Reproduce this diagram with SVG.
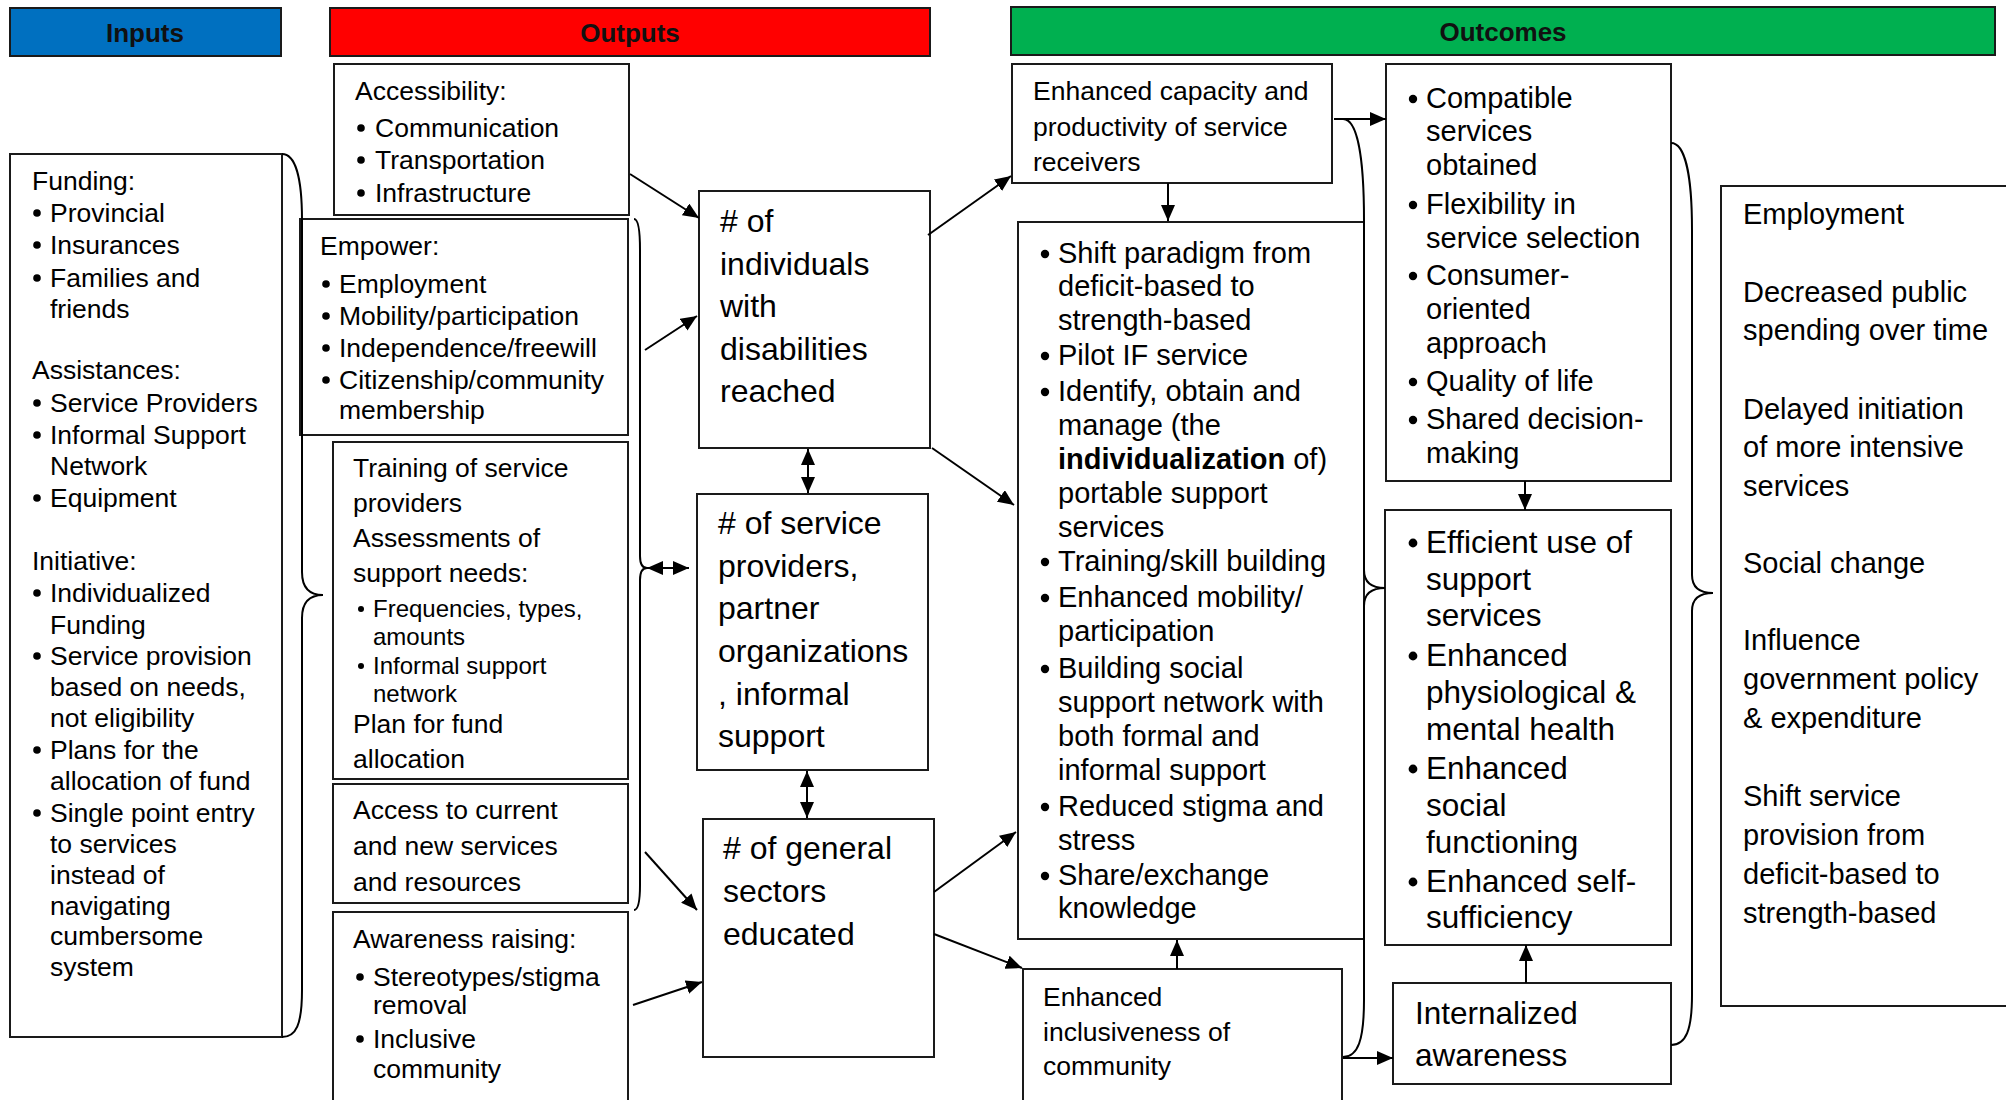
<svg xmlns="http://www.w3.org/2000/svg" width="2006" height="1100" viewBox="0 0 2006 1100">
<style>
.box{fill:#fff;stroke:#1a1a1a;stroke-width:2}
.hdr{stroke:#1a1a1a;stroke-width:2}
.ht{font-family:"Liberation Sans",Arial,sans-serif;font-size:26px;font-weight:bold;fill:#111;text-anchor:middle}
.t{font-family:"Liberation Sans",Arial,sans-serif;font-size:26.5px;fill:#000}
.s{font-family:"Liberation Sans",Arial,sans-serif;font-size:24px;fill:#000}
.m{font-family:"Liberation Sans",Arial,sans-serif;font-size:29px;fill:#000}
.l{font-family:"Liberation Sans",Arial,sans-serif;font-size:31.5px;fill:#000}
.xl{font-family:"Liberation Sans",Arial,sans-serif;font-size:32px;fill:#000}
.b{fill:#000}
.c{fill:none;stroke:#000;stroke-width:2}
.br{fill:none;stroke:#000;stroke-width:2}
</style>
<defs>
<marker id="ah" markerUnits="userSpaceOnUse" markerWidth="16" markerHeight="14" refX="16" refY="7" orient="auto-start-reverse">
<path d="M0,0 L16,7 L0,14 z" fill="#000"/>
</marker>
</defs>
<rect width="2006" height="1100" fill="#fff"/>

<!-- headers -->
<g id="hdr-inputs"><rect class="hdr" x="10" y="8" width="271" height="48" fill="#0070C0"/><text class="ht" x="145" y="42">Inputs</text></g>
<g id="hdr-outputs"><rect class="hdr" x="330" y="8" width="600" height="48" fill="#FF0000"/><text class="ht" x="630" y="42">Outputs</text></g>
<g id="hdr-outcomes"><rect class="hdr" x="1011" y="7" width="984" height="48" fill="#00B050"/><text class="ht" x="1503" y="41">Outcomes</text></g>

<!-- Inputs -->
<g id="funding">
<rect class="box" x="10" y="154" width="272" height="883"/>
<text class="t" x="32" y="190">Funding:</text>
<circle class="b" cx="37" cy="213" r="3.8"/><text class="t" x="50" y="222">Provincial</text>
<circle class="b" cx="37" cy="245" r="3.8"/><text class="t" x="50" y="254">Insurances</text>
<circle class="b" cx="37" cy="278" r="3.8"/><text class="t" x="50" y="287">Families and</text>
<text class="t" x="50" y="318">friends</text>
<text class="t" x="32" y="379">Assistances:</text>
<circle class="b" cx="37" cy="403" r="3.8"/><text class="t" x="50" y="412">Service Providers</text>
<circle class="b" cx="37" cy="435" r="3.8"/><text class="t" x="50" y="444">Informal Support</text>
<text class="t" x="50" y="475">Network</text>
<circle class="b" cx="37" cy="498" r="3.8"/><text class="t" x="50" y="507">Equipment</text>
<text class="t" x="32" y="570">Initiative:</text>
<circle class="b" cx="37" cy="593" r="3.8"/><text class="t" x="50" y="602">Individualized</text>
<text class="t" x="50" y="634">Funding</text>
<circle class="b" cx="37" cy="656" r="3.8"/><text class="t" x="50" y="665">Service provision</text>
<text class="t" x="50" y="696">based on needs,</text>
<text class="t" x="50" y="727">not eligibility</text>
<circle class="b" cx="37" cy="750" r="3.8"/><text class="t" x="50" y="759">Plans for the</text>
<text class="t" x="50" y="790">allocation of fund</text>
<circle class="b" cx="37" cy="813" r="3.8"/><text class="t" x="50" y="822">Single point entry</text>
<text class="t" x="50" y="853">to services</text>
<text class="t" x="50" y="884">instead of</text>
<text class="t" x="50" y="915">navigating</text>
<text class="t" x="50" y="945">cumbersome</text>
<text class="t" x="50" y="976">system</text>
</g>

<!-- Outputs -->
<g id="accessibility">
<rect class="box" x="334" y="64" width="295" height="151"/>
<text class="t" x="355" y="100">Accessibility:</text>
<circle class="b" cx="361" cy="128" r="3.8"/><text class="t" x="375" y="137">Communication</text>
<circle class="b" cx="361" cy="160" r="3.8"/><text class="t" x="375" y="169">Transportation</text>
<circle class="b" cx="361" cy="193" r="3.8"/><text class="t" x="375" y="202">Infrastructure</text>
</g>
<g id="empower">
<rect class="box" x="300" y="219" width="328" height="216"/>
<text class="t" x="320" y="255">Empower:</text>
<circle class="b" cx="326" cy="284" r="3.8"/><text class="t" x="339" y="293">Employment</text>
<circle class="b" cx="326" cy="316" r="3.8"/><text class="t" x="339" y="325">Mobility/participation</text>
<circle class="b" cx="326" cy="348" r="3.8"/><text class="t" x="339" y="357">Independence/freewill</text>
<circle class="b" cx="326" cy="380" r="3.8"/><text class="t" x="339" y="389">Citizenship/community</text>
<text class="t" x="339" y="419">membership</text>
</g>
<g id="training">
<rect class="box" x="333" y="442" width="295" height="337"/>
<text class="t" x="353" y="477">Training of service</text>
<text class="t" x="353" y="512">providers</text>
<text class="t" x="353" y="547">Assessments of</text>
<text class="t" x="353" y="582">support needs:</text>
<circle class="b" cx="361" cy="609" r="3"/><text class="s" x="373" y="617">Frequencies, types,</text>
<text class="s" x="373" y="645">amounts</text>
<circle class="b" cx="361" cy="666" r="3"/><text class="s" x="373" y="674">Informal support</text>
<text class="s" x="373" y="702">network</text>
<text class="t" x="353" y="733">Plan for fund</text>
<text class="t" x="353" y="768">allocation</text>
</g>
<g id="access">
<rect class="box" x="333" y="784" width="295" height="119"/>
<text class="t" x="353" y="819">Access to current</text>
<text class="t" x="353" y="855">and new services</text>
<text class="t" x="353" y="891">and resources</text>
</g>
<g id="awareness">
<rect class="box" x="333" y="912" width="295" height="200"/>
<text class="t" x="353" y="948">Awareness raising:</text>
<circle class="b" cx="360" cy="977" r="3.8"/><text class="t" x="373" y="986">Stereotypes/stigma</text>
<text class="t" x="373" y="1014">removal</text>
<circle class="b" cx="360" cy="1039" r="3.8"/><text class="t" x="373" y="1048">Inclusive</text>
<text class="t" x="373" y="1078">community</text>
</g>

<g id="n-individuals">
<rect class="box" x="699" y="191" width="231" height="257"/>
<text class="xl" x="720" y="232"># of</text>
<text class="xl" x="720" y="275">individuals</text>
<text class="xl" x="720" y="317">with</text>
<text class="xl" x="720" y="360">disabilities</text>
<text class="xl" x="720" y="402">reached</text>
</g>
<g id="n-service">
<rect class="box" x="697" y="494" width="231" height="276"/>
<text class="xl" x="718" y="534"># of service</text>
<text class="xl" x="718" y="577">providers,</text>
<text class="xl" x="718" y="619">partner</text>
<text class="xl" x="718" y="662">organizations</text>
<text class="xl" x="718" y="705">, informal</text>
<text class="xl" x="718" y="747">support</text>
</g>
<g id="n-general">
<rect class="box" x="703" y="819" width="231" height="238"/>
<text class="xl" x="723" y="859"># of general</text>
<text class="xl" x="723" y="902">sectors</text>
<text class="xl" x="723" y="945">educated</text>
</g>

<!-- Outcomes -->
<g id="capacity">
<rect class="box" x="1012" y="64" width="320" height="119"/>
<text class="t" x="1033" y="100">Enhanced capacity and</text>
<text class="t" x="1033" y="136">productivity of service</text>
<text class="t" x="1033" y="171">receivers</text>
</g>
<g id="shift">
<rect class="box" x="1018" y="222" width="346" height="717"/>
<circle class="b" cx="1045" cy="254" r="4.2"/><text class="m" x="1058" y="263">Shift paradigm from</text>
<text class="m" x="1058" y="296">deficit-based to</text>
<text class="m" x="1058" y="330">strength-based</text>
<circle class="b" cx="1045" cy="356" r="4.2"/><text class="m" x="1058" y="365">Pilot IF service</text>
<circle class="b" cx="1045" cy="392" r="4.2"/><text class="m" x="1058" y="401">Identify, obtain and</text>
<text class="m" x="1058" y="435">manage (the</text>
<text class="m" x="1058" y="469"><tspan font-weight="bold">individualization</tspan> of)</text>
<text class="m" x="1058" y="503">portable support</text>
<text class="m" x="1058" y="537">services</text>
<circle class="b" cx="1045" cy="562" r="4.2"/><text class="m" x="1058" y="571">Training/skill building</text>
<circle class="b" cx="1045" cy="598" r="4.2"/><text class="m" x="1058" y="607">Enhanced mobility/</text>
<text class="m" x="1058" y="641">participation</text>
<circle class="b" cx="1045" cy="669" r="4.2"/><text class="m" x="1058" y="678">Building social</text>
<text class="m" x="1058" y="712">support network with</text>
<text class="m" x="1058" y="746">both formal and</text>
<text class="m" x="1058" y="780">informal support</text>
<circle class="b" cx="1045" cy="807" r="4.2"/><text class="m" x="1058" y="816">Reduced stigma and</text>
<text class="m" x="1058" y="850">stress</text>
<circle class="b" cx="1045" cy="876" r="4.2"/><text class="m" x="1058" y="885">Share/exchange</text>
<text class="m" x="1058" y="918">knowledge</text>
</g>
<g id="inclusiveness">
<rect class="box" x="1023" y="969" width="319" height="140"/>
<text class="t" x="1043" y="1006">Enhanced</text>
<text class="t" x="1043" y="1041">inclusiveness of</text>
<text class="t" x="1043" y="1075">community</text>
</g>
<g id="compatible">
<rect class="box" x="1386" y="64" width="285" height="417"/>
<circle class="b" cx="1413" cy="99" r="4.2"/><text class="m" x="1426" y="108">Compatible</text>
<text class="m" x="1426" y="141">services</text>
<text class="m" x="1426" y="175">obtained</text>
<circle class="b" cx="1413" cy="205" r="4.2"/><text class="m" x="1426" y="214">Flexibility in</text>
<text class="m" x="1426" y="248">service selection</text>
<circle class="b" cx="1413" cy="276" r="4.2"/><text class="m" x="1426" y="285">Consumer-</text>
<text class="m" x="1426" y="319">oriented</text>
<text class="m" x="1426" y="353">approach</text>
<circle class="b" cx="1413" cy="382" r="4.2"/><text class="m" x="1426" y="391">Quality of life</text>
<circle class="b" cx="1413" cy="420" r="4.2"/><text class="m" x="1426" y="429">Shared decision-</text>
<text class="m" x="1426" y="463">making</text>
</g>
<g id="efficient">
<rect class="box" x="1385" y="510" width="286" height="435"/>
<circle class="b" cx="1413" cy="543" r="4.4"/><text class="l" x="1426" y="553">Efficient use of</text>
<text class="l" x="1426" y="590">support</text>
<text class="l" x="1426" y="626">services</text>
<circle class="b" cx="1413" cy="656" r="4.4"/><text class="l" x="1426" y="666">Enhanced</text>
<text class="l" x="1426" y="703">physiological &amp;</text>
<text class="l" x="1426" y="740">mental health</text>
<circle class="b" cx="1413" cy="769" r="4.4"/><text class="l" x="1426" y="779">Enhanced</text>
<text class="l" x="1426" y="816">social</text>
<text class="l" x="1426" y="853">functioning</text>
<circle class="b" cx="1413" cy="882" r="4.4"/><text class="l" x="1426" y="892">Enhanced self-</text>
<text class="l" x="1426" y="928">sufficiency</text>
</g>
<g id="internalized">
<rect class="box" x="1393" y="983" width="278" height="101"/>
<text class="l" x="1415" y="1024">Internalized</text>
<text class="l" x="1415" y="1066">awareness</text>
</g>
<g id="impact">
<rect class="box" x="1721" y="186" width="300" height="820"/>
<text class="m" x="1743" y="224">Employment</text>
<text class="m" x="1743" y="302">Decreased public</text>
<text class="m" x="1743" y="340">spending over time</text>
<text class="m" x="1743" y="419">Delayed initiation</text>
<text class="m" x="1743" y="457">of more intensive</text>
<text class="m" x="1743" y="496">services</text>
<text class="m" x="1743" y="573">Social change</text>
<text class="m" x="1743" y="650">Influence</text>
<text class="m" x="1743" y="689">government policy</text>
<text class="m" x="1743" y="728">&amp; expenditure</text>
<text class="m" x="1743" y="806">Shift service</text>
<text class="m" x="1743" y="845">provision from</text>
<text class="m" x="1743" y="884">deficit-based to</text>
<text class="m" x="1743" y="923">strength-based</text>
</g>

<!-- connectors -->
<g id="connectors">
<path class="br" d="M282,154 C296,154 302,180 302,220 L302,572 Q302,595 323,595 Q302,595 302,618 L302,990 C302,1025 296,1037 282,1037"/>
<path class="br" d="M634,219 C638,219 640,230 640,250 L640,556 Q640,568 647,568 Q640,568 640,580 L640,885 C640,900 638,910 634,910"/>
<path class="br" d="M1343,119 C1358,119 1364,160 1364,220 L1364,570 Q1364,588 1385,588 Q1364,588 1364,606 L1364,1000 C1364,1040 1358,1057 1343,1057"/>
<path class="br" d="M1671,143 C1686,143 1692,180 1692,230 L1692,575 Q1692,593 1713,593 Q1692,593 1692,611 L1692,995 C1692,1030 1686,1045 1671,1045"/>
<line class="c" x1="630" y1="174" x2="699" y2="218" marker-end="url(#ah)"/>
<line class="c" x1="645" y1="350" x2="697" y2="316" marker-end="url(#ah)"/>
<line class="c" x1="645" y1="852" x2="697" y2="910" marker-end="url(#ah)"/>
<line class="c" x1="633" y1="1005" x2="702" y2="982" marker-end="url(#ah)"/>
<line class="c" x1="647" y1="568" x2="689" y2="568" marker-start="url(#ah)" marker-end="url(#ah)"/>
<line class="c" x1="808" y1="449" x2="808" y2="493" marker-start="url(#ah)" marker-end="url(#ah)"/>
<line class="c" x1="807" y1="771" x2="807" y2="818" marker-start="url(#ah)" marker-end="url(#ah)"/>
<line class="c" x1="928" y1="235" x2="1011" y2="176" marker-end="url(#ah)"/>
<line class="c" x1="932" y1="448" x2="1014" y2="505" marker-end="url(#ah)"/>
<line class="c" x1="934" y1="892" x2="1016" y2="832" marker-end="url(#ah)"/>
<line class="c" x1="934" y1="934" x2="1022" y2="968" marker-end="url(#ah)"/>
<line class="c" x1="1168" y1="183" x2="1168" y2="221" marker-end="url(#ah)"/>
<line class="c" x1="1334" y1="119" x2="1386" y2="119" marker-end="url(#ah)"/>
<line class="c" x1="1177" y1="969" x2="1177" y2="940" marker-end="url(#ah)"/>
<line class="c" x1="1343" y1="1058" x2="1393" y2="1058" marker-end="url(#ah)"/>
<line class="c" x1="1525" y1="481" x2="1525" y2="510" marker-end="url(#ah)"/>
<line class="c" x1="1526" y1="983" x2="1526" y2="945" marker-end="url(#ah)"/>
</g>
</svg>
